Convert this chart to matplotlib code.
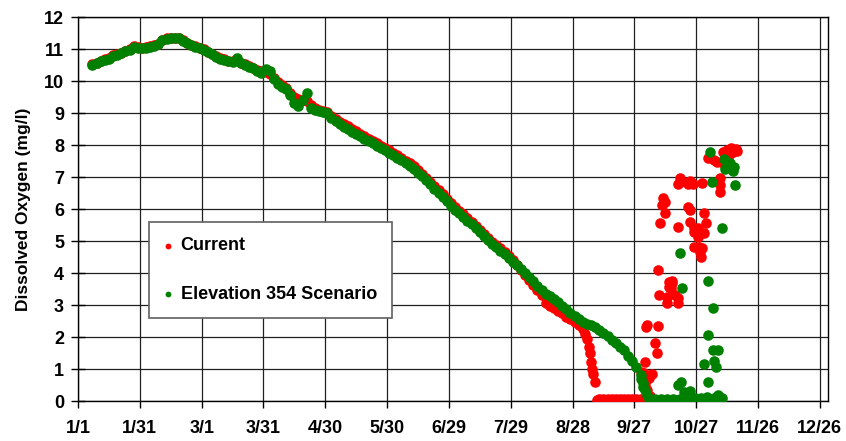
import matplotlib
matplotlib.use("Agg")
import matplotlib.pyplot as plt

plt.rcParams['font.family'] = ['Liberation Sans', 'DejaVu Sans']

# ---------------- data (day of year, 0 = Jan 1) ----------------
tick_days = [0, 30, 60, 90, 120, 150, 180, 210, 240, 270, 300, 330, 360]
tick_labels = ["1/1", "1/31", "3/1", "3/31", "4/30", "5/30", "6/29",
               "7/29", "8/28", "9/27", "10/27", "11/26", "12/26"]
y_ticks = list(range(0, 13))

# Elevation 354 Scenario (green) - continuous part
green_days = [7, 9, 11, 13, 15, 17, 19, 21, 23, 25, 27, 29, 31, 33, 35, 37, 39, 41, 43, 45,
              47, 49, 51, 53, 55, 57, 59, 61, 63, 65, 67, 69, 71, 73, 75, 77, 79, 81, 83, 85,
              87, 89, 91, 93, 95, 97, 99, 101, 103, 105, 107, 109, 111, 113, 115, 117, 119, 121, 123, 125,
              127, 129, 131, 133, 135, 137, 139, 141, 143, 145, 147, 149, 151, 153, 155, 157, 159, 161, 163, 165,
              167, 169, 171, 173, 175, 177, 179, 181, 183, 185, 187, 189, 191, 193, 195, 197, 199, 201, 203, 205,
              207, 209, 211, 213, 215, 217, 219, 221, 223, 225, 227, 229, 231, 233, 235, 237, 239, 241, 243, 245,
              247, 249, 251, 253, 255, 257, 259, 261, 263, 265, 267, 269, 271, 273, 274, 275, 276]
green_vals = [10.50, 10.55, 10.62, 10.66, 10.70, 10.78, 10.82, 10.86, 10.93, 10.98, 11.06, 11.04, 11.02, 11.03, 11.07, 11.10, 11.15, 11.28, 11.32, 11.33,
              11.34, 11.33, 11.25, 11.18, 11.12, 11.06, 11.02, 10.97, 10.90, 10.83, 10.76, 10.70, 10.66, 10.62, 10.60, 10.72, 10.55, 10.50, 10.45, 10.40,
              10.32, 10.25, 10.38, 10.30, 10.05, 9.90, 9.82, 9.75, 9.55, 9.30, 9.22, 9.40, 9.62, 9.15, 9.08, 9.05, 9.02, 9.00, 8.85, 8.74,
              8.65, 8.57, 8.50, 8.42, 8.35, 8.27, 8.19, 8.12, 8.05, 7.98, 7.90, 7.84, 7.76, 7.68, 7.60, 7.52, 7.43, 7.35, 7.25, 7.14,
              7.02, 6.90, 6.77, 6.64, 6.51, 6.38, 6.24, 6.10, 5.98, 5.86, 5.76, 5.64, 5.52, 5.40, 5.27, 5.15, 5.02, 4.90, 4.80, 4.70,
              4.58, 4.46, 4.34, 4.24, 4.14, 4.00, 3.86, 3.74, 3.60, 3.46, 3.35, 3.27, 3.18, 3.08, 2.98, 2.86, 2.76, 2.66, 2.56, 2.48,
              2.42, 2.36, 2.30, 2.22, 2.12, 2.02, 1.92, 1.82, 1.70, 1.58, 1.42, 1.25, 1.06, 0.80, 0.55, 0.35, 0.18]
# Elevation 354 Scenario (green) - autumn scattered points
green_fall_days = [277, 278.5, 280, 281.5, 283, 284.5, 286, 287.5, 289, 290.5, 292, 293.5, 295, 296.5, 298, 299.5,
                   301, 302.5, 304, 305.5, 307, 308.5, 310, 311.5, 273, 274,
                   291, 292.5, 294, 297, 305.8, 304, 308.5, 309.5, 306, 308, 310.5, 308, 305.8, 312.6, 292, 293,
                   306.8, 307.8, 319, 315, 316.5, 314, 318, 310.5, 312.5, 313.5, 316, 318.5]
green_fall_vals = [0.06, 0.04, 0.05, 0.03, 0.06, 0.04, 0.05, 0.03, 0.05, 0.04, 0.06, 0.03, 0.05, 0.04, 0.06, 0.10,
                   0.05, 0.08, 0.04, 0.12, 0.06, 0.08, 0.05, 0.04, 0.70, 0.44,
                   0.50, 0.60, 0.28, 0.30, 0.60, 1.15, 1.25, 1.06, 2.06, 1.60, 1.60, 2.90, 3.75, 5.40, 4.62, 3.53,
                   7.78, 6.84, 6.75, 7.47, 7.44, 7.25, 7.19, 0.20, 0.10, 7.55, 7.35, 7.30]

# Current (red) - continuous part
red_days = [7, 9, 11, 13, 15, 17, 19, 21, 23, 25, 27, 29, 31, 33, 35, 37, 39, 41, 43, 45,
            47, 49, 51, 53, 55, 57, 59, 61, 63, 65, 67, 69, 71, 73, 75, 77, 79, 81, 83, 85,
            87, 89, 91, 93, 95, 97, 99, 101, 103, 105, 107, 109, 111, 113, 115, 117, 119, 121, 123, 125,
            127, 129, 131, 133, 135, 137, 139, 141, 143, 145, 147, 149, 151, 153, 155, 157, 159, 161, 163, 165,
            167, 169, 171, 173, 175, 177, 179, 181, 183, 185, 187, 189, 191, 193, 195, 197, 199, 201, 203, 205,
            207, 209, 211, 213, 215, 217, 219, 221, 223, 225, 227, 229, 231, 233, 235, 237, 239, 241, 243, 245,
            246, 247, 248, 248.5, 249, 249.5, 250, 251]
red_vals = [10.52, 10.57, 10.63, 10.68, 10.72, 10.80, 10.84, 10.88, 10.95, 11.00, 11.08, 11.06, 11.04, 11.05, 11.09, 11.12, 11.17, 11.29, 11.33, 11.34,
            11.35, 11.34, 11.27, 11.20, 11.14, 11.08, 11.04, 10.99, 10.92, 10.85, 10.78, 10.72, 10.68, 10.64, 10.62, 10.66, 10.57, 10.52, 10.47, 10.42,
            10.35, 10.30, 10.28, 10.22, 10.10, 9.98, 9.88, 9.78, 9.64, 9.50, 9.45, 9.42, 9.38, 9.25, 9.15, 9.10, 9.06, 9.02, 8.92, 8.82,
            8.73, 8.65, 8.58, 8.50, 8.43, 8.35, 8.27, 8.20, 8.13, 8.06, 7.98, 7.92, 7.84, 7.76, 7.68, 7.60, 7.51, 7.43, 7.33, 7.22,
            7.10, 6.98, 6.85, 6.72, 6.59, 6.46, 6.32, 6.18, 6.06, 5.94, 5.84, 5.72, 5.60, 5.48, 5.35, 5.23, 5.10, 4.98, 4.88, 4.77,
            4.65, 4.52, 4.40, 4.26, 4.10, 3.94, 3.78, 3.64, 3.48, 3.30, 3.05, 2.96, 2.90, 2.82, 2.74, 2.64, 2.55, 2.46, 2.36, 2.24,
            2.10, 1.95, 1.70, 1.50, 1.22, 1.00, 0.85, 0.60]
# Current (red) - autumn scattered points
red_fall_days = [252, 253, 254, 255, 256, 257, 258, 259, 260, 261, 262, 263, 264, 265, 266, 267, 268, 269, 270, 271,
                 272, 273, 274,
                 276, 281.5, 280, 281, 275, 273, 274.5, 278.6, 276, 277, 275, 276, 277.5, 275.7,
                 281.5, 287, 288.5, 287, 282, 286, 289.7, 291, 291.2, 286, 288, 288.5,
                 284, 285, 283.5, 285, 282.5, 291,
                 292, 293, 291, 296, 298.5, 297, 303, 298,
                 296, 297, 297, 304, 305, 299, 301, 299, 304, 301, 299, 301.5, 303, 302, 302.5,
                 311.7, 311.7, 311.5,
                 306, 308.5, 310, 313, 313, 315, 317, 318, 316, 319.5, 320]
red_fall_vals = [0.04, 0.06, 0.03, 0.05, 0.04, 0.06, 0.03, 0.05, 0.04, 0.06, 0.03, 0.05, 0.04, 0.06, 0.03, 0.05, 0.04, 0.06, 0.03, 0.05,
                 0.04, 0.06, 0.05,
                 2.38, 2.34, 1.81, 1.50, 1.22, 0.90, 0.87, 0.84, 0.70, 0.72, 0.50, 0.34, 0.15, 2.30,
                 4.10, 3.72, 3.69, 3.56, 3.31, 3.25, 3.31, 3.22, 3.06, 3.06, 3.53, 3.75,
                 6.34, 6.22, 6.12, 5.87, 5.56, 5.44,
                 6.97, 6.88, 6.78, 6.78, 6.78, 6.88, 6.81, 6.81,
                 6.06, 5.97, 5.60, 5.87, 5.56, 5.40, 5.40, 5.28, 5.25, 5.12, 4.80, 4.80, 4.78, 4.66, 4.50,
                 6.97, 6.75, 6.53,
                 7.60, 7.53, 7.47, 7.44, 7.78, 7.84, 7.90, 7.78, 7.69, 7.88, 7.82]

# ---------------- figure ----------------
fig = plt.figure(figsize=(8.46, 4.41), dpi=100)
ax = fig.add_axes([78 / 846, 1 - 401 / 441, 750 / 846, 384 / 441])

red_c = '#FF0000'
green_c = '#008000'
ms = 58

ax.scatter(red_days + red_fall_days, red_vals + red_fall_vals, s=ms, c=red_c,
           linewidths=0, label='Current', zorder=3)
ax.scatter(green_days + green_fall_days, green_vals + green_fall_vals, s=ms, c=green_c,
           linewidths=0, label='Elevation 354 Scenario', zorder=4)

ax.set_xlim(0, 364)
ax.set_ylim(0, 12)
ax.set_xticks(tick_days)
ax.set_xticklabels(tick_labels)
ax.set_yticks(y_ticks)
ax.grid(True, color='#202020', linewidth=0.9)
ax.set_axisbelow(True)

for s in ax.spines.values():
    s.set_color('black')
    s.set_linewidth(1.0)

ax.tick_params(axis='x', direction='out', length=5, width=1, pad=9, labelsize=13)
ax.tick_params(axis='y', direction='inout', length=10, width=1, pad=5, labelsize=13)
for lab in ax.get_xticklabels() + ax.get_yticklabels():
    lab.set_fontweight('bold')

ax.set_ylabel('Dissolved Oxygen (mg/l)', fontsize=12.5, fontweight='bold', labelpad=9)

leg = ax.legend(loc='upper left', bbox_to_anchor=(71 / 750, (401 - 222) / 384),
                borderaxespad=0, frameon=True, fancybox=False, markerscale=0.55,
                handlelength=0.4, handletextpad=0.5, labelspacing=1.75, borderpad=0.85,
                prop={'weight': 'bold', 'size': 13})
leg.get_frame().set_edgecolor('#606060')
leg.get_frame().set_linewidth(1.2)
leg.get_frame().set_alpha(1)
leg.set_zorder(10)

fig.savefig('out.png', dpi=100)
